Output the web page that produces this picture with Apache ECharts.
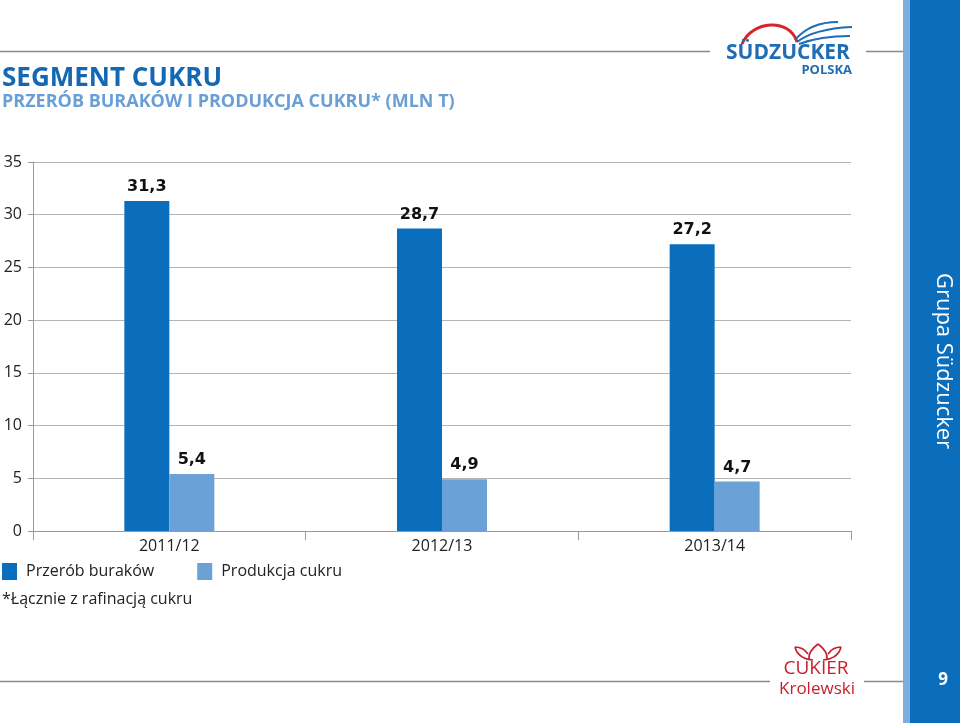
<!DOCTYPE html>
<html>
<head>
<meta charset="utf-8">
<script src="https://cdn.jsdelivr.net/npm/echarts@6/dist/echarts.min.js"></script>
<style>html,body{margin:0;padding:0;background:#fff}#c{width:960px;height:723px}</style>
</head>
<body>
<div id="c"></div>
<script>
const categories = ['2011/12', '2012/13', '2013/14'];
const przerobBurakow = [31.3, 28.7, 27.2];
const produkcjaCukru = [5.4, 4.9, 4.7];
const seriesNames = ['Przerób buraków', 'Produkcja cukru'];

const DARK = '#0a6ebd';
const LIGHT = '#6aa2d8';
const RED = '#c8202e';
const FONT = '"Open Sans", "Noto Sans", sans-serif';

const chart = echarts.init(document.getElementById('c'));
const labelCfg = {
  show: true, position: 'top', distance: 6,
  fontFamily: '"DejaVu Sans", Verdana, sans-serif', fontWeight: 'bold', fontSize: 16, color: '#111',
  formatter: p => String(p.value).replace('.', ',')
};
const redLine = { stroke: RED, lineWidth: 1.7, fill: null };
chart.setOption({
  animation: false,
  grid: { left: 33, right: 109, top: 162, bottom: 192 },
  legend: {
    left: 2, top: 563, padding: 0, itemWidth: 15, itemHeight: 17, itemGap: 43,
    icon: 'rect',
    textStyle: { fontFamily: FONT, fontSize: 16, color: '#222', padding: [0, 0, 0, 4] },
    data: seriesNames
  },
  xAxis: {
    type: 'category', data: categories,
    axisLine: { lineStyle: { color: '#9a9a9a', width: 1 } },
    axisTick: { show: true, length: 9, lineStyle: { color: '#9a9a9a' } },
    axisLabel: { fontFamily: FONT, fontSize: 16, color: '#222', margin: 7 }
  },
  yAxis: {
    type: 'value', min: 0, max: 35, interval: 5,
    axisLine: { show: true, lineStyle: { color: '#9a9a9a', width: 1 } },
    axisTick: { show: true, length: 5, lineStyle: { color: '#9a9a9a' } },
    splitLine: { lineStyle: { color: '#b5b5b5', width: 1 } },
    axisLabel: { fontFamily: FONT, fontSize: 16, color: '#222', margin: 11 }
  },
  series: [
    { name: seriesNames[0], type: 'bar', data: przerobBurakow, barWidth: 45, barGap: '0%',
      itemStyle: { color: DARK }, label: labelCfg },
    { name: seriesNames[1], type: 'bar', data: produkcjaCukru, barWidth: 45,
      itemStyle: { color: LIGHT }, label: labelCfg }
  ],
  graphic: [
    { type: 'text', left: 2, top: 66, style: { text: 'SEGMENT CUKRU', fontFamily: FONT, fontWeight: 'bold', fontSize: 26, fill: '#1468b3' } },
    { type: 'text', left: 2, top: 93, style: { text: 'PRZERÓB BURAKÓW I PRODUKCJA CUKRU* (MLN T)', fontFamily: FONT, fontWeight: 'bold', fontSize: 18, fill: '#6a9fd6' } },
    { type: 'text', left: 2, top: 591, style: { text: '*Łącznie z rafinacją cukru', fontFamily: FONT, fontSize: 16, fill: '#222' } },
    // top/bottom rules
    { type: 'line', shape: { x1: 0, y1: 51.5, x2: 710, y2: 51.5 }, style: { stroke: '#8a8a8a', lineWidth: 1.5 } },
    { type: 'line', shape: { x1: 866, y1: 51.5, x2: 903, y2: 51.5 }, style: { stroke: '#8a8a8a', lineWidth: 1.5 } },
    { type: 'line', shape: { x1: 0, y1: 681.5, x2: 770, y2: 681.5 }, style: { stroke: '#8a8a8a', lineWidth: 1.5 } },
    { type: 'line', shape: { x1: 864, y1: 681.5, x2: 903, y2: 681.5 }, style: { stroke: '#8a8a8a', lineWidth: 1.5 } },
    // right band
    { type: 'rect', shape: { x: 903, y: 0, width: 8, height: 723 }, style: { fill: '#7eaee0' } },
    { type: 'rect', shape: { x: 910, y: 0, width: 50, height: 723 }, style: { fill: '#0a6ebd' } },
    { type: 'text', x: 943, y: 361, rotation: -Math.PI / 2,
      style: { text: 'Grupa Südzucker', fontFamily: FONT, fontSize: 22, fill: '#fff', align: 'center', verticalAlign: 'middle' } },
    { type: 'text', x: 943, y: 680, style: { text: '9', fontFamily: FONT, fontWeight: 'bold', fontSize: 17, fill: '#fff', align: 'center', verticalAlign: 'middle' } },
    // Südzucker logo
    { type: 'bezierCurve', shape: { x1: 742, y1: 44, x2: 797, y2: 42, cpx1: 752, cpy1: 20, cpx2: 790, cpy2: 18 }, style: { stroke: '#d8232a', lineWidth: 3, fill: null } },
    { type: 'bezierCurve', shape: { x1: 795, y1: 40, x2: 838, y2: 22, cpx1: 805, cpy1: 28, cpx2: 820, cpy2: 22 }, style: { stroke: '#1f6db5', lineWidth: 2, fill: null } },
    { type: 'bezierCurve', shape: { x1: 797, y1: 42, x2: 852, y2: 27, cpx1: 810, cpy1: 32, cpx2: 830, cpy2: 28 }, style: { stroke: '#1f6db5', lineWidth: 2, fill: null } },
    { type: 'bezierCurve', shape: { x1: 799, y1: 44, x2: 850, y2: 36, cpx1: 815, cpy1: 38, cpx2: 835, cpy2: 36 }, style: { stroke: '#1f6db5', lineWidth: 2, fill: null } },
    { type: 'text', x: 788, y: 53, style: { text: 'SÜDZUCKER', fontFamily: FONT, fontWeight: 'bold', fontSize: 21, fill: '#1f6db5', align: 'center', verticalAlign: 'middle' } },
    { type: 'text', x: 852, y: 70, style: { text: 'POLSKA', fontFamily: FONT, fontWeight: 'bold', fontSize: 13, fill: '#1f6db5', align: 'right', verticalAlign: 'middle' } },
    // Cukier Królewski logo (crown)
    { type: 'bezierCurve', shape: { x1: 809, y1: 659, x2: 818, y2: 644, cpx1: 808, cpy1: 652, cpx2: 814, cpy2: 647 }, style: redLine },
    { type: 'bezierCurve', shape: { x1: 827, y1: 659, x2: 818, y2: 644, cpx1: 828, cpy1: 652, cpx2: 822, cpy2: 647 }, style: redLine },
    { type: 'bezierCurve', shape: { x1: 813, y1: 660, x2: 795, y2: 647, cpx1: 806, cpy1: 660, cpx2: 797, cpy2: 656 }, style: redLine },
    { type: 'bezierCurve', shape: { x1: 823, y1: 660, x2: 841, y2: 647, cpx1: 830, cpy1: 660, cpx2: 839, cpy2: 656 }, style: redLine },
    { type: 'bezierCurve', shape: { x1: 795, y1: 647, x2: 808, y2: 654, cpx1: 802, cpy1: 647, cpx2: 806, cpy2: 651 }, style: redLine },
    { type: 'bezierCurve', shape: { x1: 841, y1: 647, x2: 828, y2: 654, cpx1: 834, cpy1: 647, cpx2: 830, cpy2: 651 }, style: redLine },
    { type: 'text', x: 816, y: 669, style: { text: 'CUKIER', fontFamily: FONT, fontSize: 19, fill: RED, align: 'center', verticalAlign: 'middle' } },
    { type: 'text', x: 817, y: 689, style: { text: 'Krolewski', fontFamily: FONT, fontSize: 17, fill: RED, align: 'center', verticalAlign: 'middle' } }
  ]
});
</script>
</body>
</html>
